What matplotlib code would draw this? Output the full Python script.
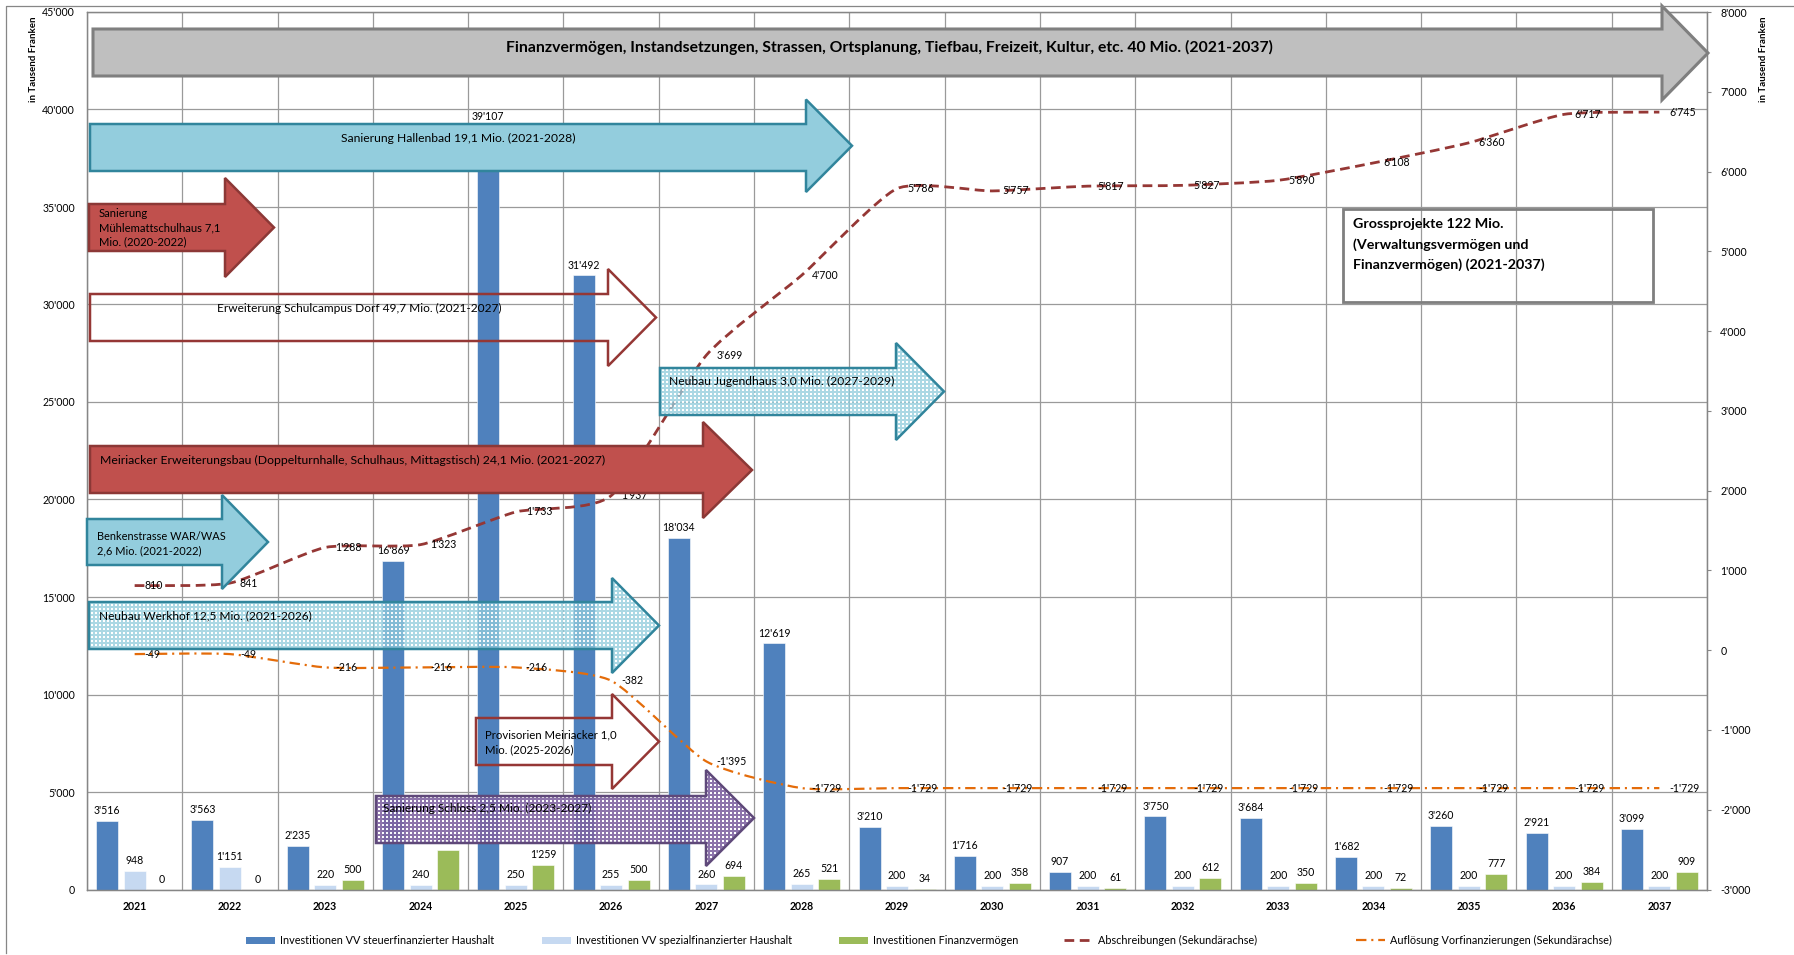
import numpy as np
import matplotlib
matplotlib.use("Agg")
import matplotlib.pyplot as plt
from matplotlib.patches import Polygon, Rectangle, PathPatch
from matplotlib.path import Path
from matplotlib.lines import Line2D

plt.rcParams['font.family'] = ['Lato', 'DejaVu Sans']
plt.rcParams['lines.scale_dashes'] = False

# ---------------- data ----------------
years = [2021, 2022, 2023, 2024, 2025, 2026, 2027, 2028, 2029, 2030,
         2031, 2032, 2033, 2034, 2035, 2036, 2037]
steuer = [3516, 3563, 2235, 16869, 39107, 31492, 18034, 12619, 3210, 1716,
          907, 3750, 3684, 1682, 3260, 2921, 3099]
spezial = [948, 1151, 220, 240, 250, 255, 260, 265, 200, 200,
           200, 200, 200, 200, 200, 200, 200]
finanz = [0, 0, 500, 2038, 1259, 500, 694, 521, 34, 358,
          61, 612, 350, 72, 777, 384, 909]
abschreibungen = [810, 841, 1288, 1323, 1733, 1937, 3699, 4700, 5786, 5757,
                  5817, 5827, 5890, 6108, 6360, 6717, 6745]
aufloesung = [-49, -49, -216, -216, -216, -382, -1395, -1729, -1729, -1729,
              -1729, -1729, -1729, -1729, -1729, -1729, -1729]

series_names = ["Investitionen VV steuerfinanzierter Haushalt",
                "Investitionen VV spezialfinanzierter Haushalt",
                "Investitionen Finanzvermögen",
                "Abschreibungen (Sekundärachse)",
                "Auflösung Vorfinanzierungen (Sekundärachse)"]

left_ticks = [0, 5000, 10000, 15000, 20000, 25000, 30000, 35000, 40000, 45000]
right_ticks = [-3000, -2000, -1000, 0, 1000, 2000, 3000, 4000, 5000, 6000, 7000, 8000]

C_BLUE, C_LIGHT, C_GREEN = '#4F81BD', '#C6D9F1', '#9BBB59'
C_ABS, C_AUF = '#953735', '#E46C0A'
GRID = '#9A9A9A'
AX = '#868686'


def fmt(v):
    return f"{v:,}".replace(",", "'")


def smooth_path(xs, ys, k=10.0):
    pts = np.column_stack([xs, ys]).astype(float)
    n = len(pts)
    verts = [pts[0]]
    codes = [Path.MOVETO]
    for i in range(n - 1):
        p0 = pts[i - 1] if i > 0 else pts[i]
        p1, p2 = pts[i], pts[i + 1]
        p3 = pts[i + 2] if i + 2 < n else pts[i + 1]
        verts += [p1 + (p2 - p0) / k, p2 - (p3 - p1) / k, p2]
        codes += [Path.CURVE4] * 3
    return Path(verts, codes)


W, H = 1794, 955
fig = plt.figure(figsize=(W / 100, H / 100), dpi=100)
L, R, T, B = 87, 1707, 12, 889.5
ax = fig.add_axes([L / W, (H - B) / H, (R - L) / W, (B - T) / H])
ax2 = ax.twinx()

x = np.arange(len(years))
cat_px = (R - L) / len(years)
off = 27.5 / cat_px
bw = 22 / cat_px

for vals, col, dx in [(steuer, C_BLUE, -off), (spezial, C_LIGHT, 0), (finanz, C_GREEN, off)]:
    ax.bar(x + dx, vals, bw, color=col, edgecolor='white', linewidth=0.4, zorder=2)
    for xi, v in zip(x + dx, vals):
        ax.annotate(fmt(v), (xi, v), xytext=(0, 3.5), textcoords='offset points',
                    ha='center', va='bottom', fontsize=7.6, zorder=3)

ax.set_xlim(-0.5, len(years) - 0.5)
ax.set_ylim(0, 45000)
ax.set_yticks(left_ticks)
ax.set_yticklabels([fmt(v) for v in left_ticks])
ax.set_xticks(x)
ax.set_xticklabels([str(y) for y in years])
ax.set_xticks(np.arange(-0.5, len(years), 1), minor=True)
ax.tick_params(axis='y', length=0, pad=8.6, labelsize=7.6)
ax.tick_params(axis='x', which='both', length=0, pad=8, labelsize=7.6)
for lbl in ax.get_xticklabels():
    lbl.set_fontweight('bold')
ax.grid(axis='y', which='major', color=GRID, linewidth=0.9, zorder=0)
ax.grid(axis='x', which='minor', color=GRID, linewidth=0.9, zorder=0)
ax.set_axisbelow(True)
for s in ax.spines.values():
    s.set_color(AX)
    s.set_linewidth(0.9)

# secondary axis lines
ax2.set_ylim(-3000, 8000)
ax2.set_yticks(right_ticks)
ax2.set_yticklabels([fmt(v) for v in right_ticks])
ax2.tick_params(axis='y', length=3, color=AX, pad=6.5, labelsize=7.6)
for s in ax2.spines.values():
    s.set_color(AX)
    s.set_linewidth(0.9)

ax2.add_patch(PathPatch(smooth_path(x, abschreibungen), fill=False, edgecolor=C_ABS,
                        linewidth=2.0, linestyle=(0, (7, 4)), zorder=4))
ax2.add_patch(PathPatch(smooth_path(x, aufloesung), fill=False, edgecolor=C_AUF,
                        linewidth=1.6, linestyle=(0, (7.5, 3.5, 1.5, 3.5)), zorder=4))
for vals in (abschreibungen, aufloesung):
    for xi, v in zip(x, vals):
        ax2.annotate(fmt(v), (xi, v), xytext=(7.2, 0), textcoords='offset points',
                     ha='left', va='center', fontsize=7.6, zorder=5)
ax2.set_xlim(-0.5, len(years) - 0.5)

# ---------------- overlay (annotation shapes, pixel coordinates) ----------------
ov = fig.add_axes([0, 0, 1, 1], zorder=10)
ov.set_xlim(0, W)
ov.set_ylim(H, 0)
ov.axis('off')
ov.patch.set_alpha(0)


def arrow_pts(x0, yt, yb, xh, hyt, hyb, xt):
    return [(x0, yt), (xh, yt), (xh, hyt), (xt, (hyt + hyb) / 2), (xh, hyb), (xh, yb), (x0, yb)]


def solid_arrow(geom, fc, ec, lw=1.8):
    p = Polygon(arrow_pts(*geom), closed=True, facecolor=fc if fc else 'none',
                edgecolor=ec, linewidth=lw, joinstyle='miter')
    ov.add_patch(p)
    return p


def pattern_arrow(geom, base_rgb, base_a, dot_a, pitch, dot, ec, lw=1.8):
    pts = arrow_pts(*geom)
    clip = Polygon(pts, closed=True, facecolor='none', edgecolor='none')
    ov.add_patch(clip)
    xs = [p[0] for p in pts]
    ys = [p[1] for p in pts]
    x0, x1 = int(min(xs)) - 2, int(max(xs)) + 2
    y0, y1 = int(min(ys)) - 2, int(max(ys)) + 2
    h, w = y1 - y0, x1 - x0
    arr = np.zeros((h, w, 4))
    arr[..., :3] = base_rgb
    arr[..., 3] = base_a
    ii, jj = np.mgrid[0:h, 0:w]
    m = (ii % pitch < dot) & (jj % pitch < dot)
    arr[m, :3] = 1.0
    arr[m, 3] = dot_a
    im = ov.imshow(arr, extent=(x0, x1, y1, y0), origin='upper', interpolation='nearest',
                   aspect='auto', zorder=1)
    im.set_clip_path(clip)
    ov.add_patch(Polygon(pts, closed=True, facecolor='none', edgecolor=ec, linewidth=lw,
                         joinstyle='miter', zorder=2))


def txt(xp, yp, s, size=8.7, weight='normal', ha='left'):
    ov.text(xp, yp, s, ha=ha, va='center', fontsize=size, fontweight=weight, zorder=3)


LB = (0x93 / 255, 0xCD / 255, 0xDD / 255)
PU = (0x80 / 255, 0x64 / 255, 0xA2 / 255)

# grey: Finanzvermoegen
solid_arrow((93, 29, 76, 1662, 6, 100, 1708), '#BFBFBF', '#7F7F7F', 2.2)
txt(889, 47, "Finanzvermögen, Instandsetzungen, Strassen, Ortsplanung, Tiefbau, Freizeit, Kultur, etc. 40 Mio. (2021-2037)",
    size=11.3, weight='bold', ha='center')
# Hallenbad
solid_arrow((90, 124, 171, 806, 99.5, 192, 852), '#93CDDD', '#31859C')
txt(341, 138, "Sanierung Hallenbad 19,1 Mio. (2021-2028)", size=8.7)
# Muehlematt
solid_arrow((89, 204, 251, 225, 178, 277, 274), '#C0504D', '#8C3836')
txt(99, 213, "Sanierung", size=8.1)
txt(99, 228, "Mühlemattschulhaus 7,1", size=8.1)
txt(99, 242, "Mio. (2020-2022)", size=8.1)
# Erweiterung Schulcampus
solid_arrow((90, 294, 341, 608, 269, 366, 656), None, '#953735')
txt(217, 308, "Erweiterung Schulcampus Dorf 49,7 Mio. (2021-2027)", size=8.6)
# Jugendhaus
pattern_arrow((660, 368, 415, 896, 343, 440, 944), LB, 0.78, 0.95, 4, 2, '#31859C')
txt(669, 381, "Neubau Jugendhaus 3,0 Mio. (2027-2029)", size=8.7)
# Meiriacker
solid_arrow((90, 446, 493, 703, 422, 518, 752), '#C0504D', '#8C3836')
txt(100, 460, "Meiriacker Erweiterungsbau (Doppelturnhalle, Schulhaus, Mittagstisch) 24,1 Mio. (2021-2027)", size=8.8)
# Benkenstrasse
solid_arrow((87, 519, 565, 222, 495, 589, 268), '#93CDDD', '#31859C')
txt(97, 536, "Benkenstrasse WAR/WAS", size=7.9)
txt(97, 551, "2,6 Mio. (2021-2022)", size=7.9)
# Werkhof
pattern_arrow((89, 602, 649, 612, 578, 673, 659), LB, 0.78, 0.95, 4, 2, '#31859C')
txt(99, 616, "Neubau Werkhof 12,5 Mio. (2021-2026)", size=8.6)
# Provisorien
solid_arrow((476, 718, 765, 612, 694, 789, 659), None, '#953735')
txt(485, 735, "Provisorien Meiriacker 1,0", size=8.2)
txt(485, 750, "Mio. (2025-2026)", size=8.2)
# Schloss
pattern_arrow((376, 796, 843, 706, 770, 866, 754), PU, 0.9, 0.95, 4, 2, '#5F497A')
txt(383, 808, "Sanierung Schloss 2,5 Mio. (2023-2027)", size=8.6)

# Grossprojekte box
ov.add_patch(Rectangle((1343, 209), 310, 93, facecolor='none', edgecolor='#7F7F7F', linewidth=2.0))
txt(1353, 224, "Grossprojekte 122 Mio.", size=10.3, weight='bold')
txt(1353, 245, "(Verwaltungsvermögen und", size=10.3, weight='bold')
txt(1353, 265, "Finanzvermögen) (2021-2037)", size=10.3, weight='bold')

# axis titles
ov.text(33, 17, "in Tausend Franken", rotation=90, ha='center', va='top', fontsize=7, fontweight='bold')
ov.text(1763, 17, "in Tausend Franken", rotation=90, ha='center', va='top', fontsize=7, fontweight='bold')

# outer chart border
ov.add_line(Line2D([6, 6, W], [953, 6, 6], color=AX, linewidth=0.9))

# legend (manual)
ly = 940
leg_items = [(246, 'patch', C_BLUE), (542, 'patch', C_LIGHT), (839, 'patch', C_GREEN),
             (1064, 'abs', C_ABS), (1356, 'auf', C_AUF)]
for (lx, kind, col), name in zip(leg_items, series_names):
    if kind == 'patch':
        ov.add_patch(Rectangle((lx, ly - 3.5), 29, 7, facecolor=col, edgecolor='none'))
    elif kind == 'abs':
        ov.add_line(Line2D([lx, lx + 29], [ly, ly], color=col, linewidth=2.0, linestyle=(0, (7, 4))))
    else:
        ov.add_line(Line2D([lx, lx + 29], [ly, ly], color=col, linewidth=1.6, linestyle=(0, (7.5, 3.5, 1.5, 3.5))))
    ov.text(lx + 34, ly, name, ha='left', va='center', fontsize=7.8)

ov.set_xlim(0, W)
ov.set_ylim(H, 0)

fig.savefig("out.png", dpi=100)
